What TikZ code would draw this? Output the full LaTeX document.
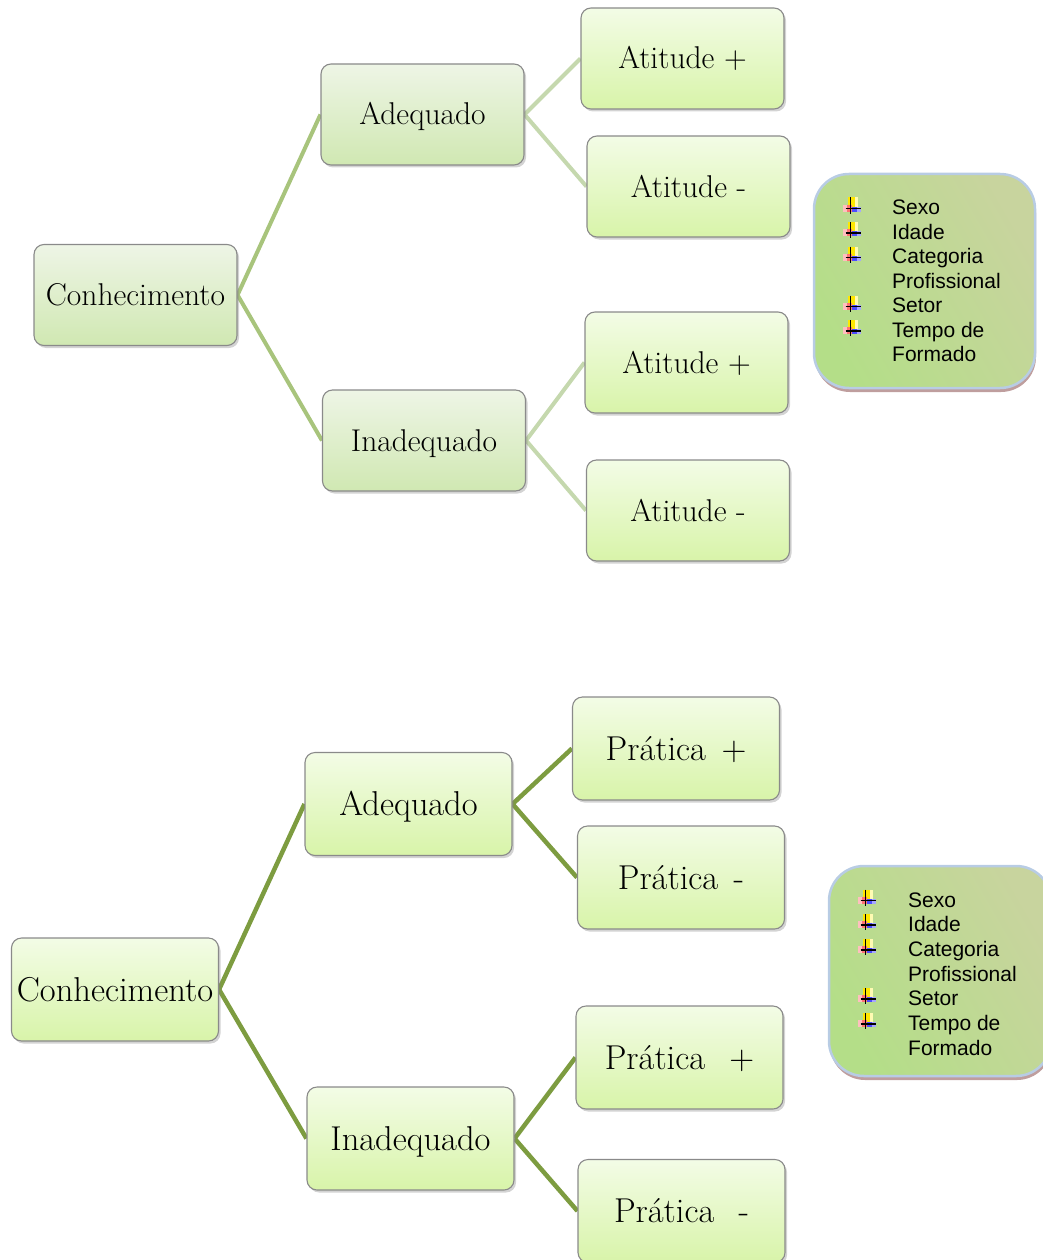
\documentclass[tikz,border=0pt]{standalone}
\usepackage{fontspec}
\newfontfamily\legfont{Liberation Sans}
\usetikzlibrary{shadows,backgrounds}
\definecolor{midtop}{HTML}{EEF5E6}
\definecolor{midbot}{HTML}{D0E8B2}
\definecolor{leaftop}{HTML}{F3FCE6}
\definecolor{leafbot}{HTML}{D8F4A9}
\definecolor{boxline}{HTML}{8A8A8A}
\definecolor{lineA}{HTML}{A8C47C}
\definecolor{lineB}{HTML}{C5D8AE}
\definecolor{lineC}{HTML}{7D9C40}
\definecolor{legA}{HTML}{B4DE88}
\definecolor{legB}{HTML}{C8D49E}
\definecolor{legline}{HTML}{B8CCE4}
\definecolor{legshadow}{HTML}{B89494}
\tikzset{
  box/.style={rounded corners=10pt, draw=boxline, line width=1.1pt, inner sep=0pt,
    drop shadow={shadow xshift=2pt, shadow yshift=-2.5pt, opacity=0.35}},
  midbox/.style={box, top color=midtop, bottom color=midbot},
  leafbox/.style={box, top color=leaftop, bottom color=leafbot},
  topfont/.style={font=\fontsize{31.5}{37}\selectfont, text height=21pt, text depth=0pt},
  botfont/.style={font=\fontsize{34.5}{40}\selectfont, text height=23pt, text depth=0pt},
  topsize/.style={minimum width=203pt, minimum height=101pt},
  botsize/.style={minimum width=207pt, minimum height=103pt},
  conA/.style={draw=lineA, line width=4pt},
  conB/.style={draw=lineB, line width=4pt},
  conC/.style={draw=lineC, line width=4.5pt},
  legend/.style={rounded corners=35pt, draw=legline, line width=2.5pt,
    left color=legA, right color=legB, shading angle=120,
    drop shadow={shadow xshift=1pt, shadow yshift=-4pt, fill=legshadow, opacity=0.9}},
  legtext/.style={font=\legfont\fontsize{21}{24}\selectfont, inner sep=0pt, anchor=base west},
  bul/.pic={
    \fill[yellow!90!orange] (-4,-8) rectangle (6,3);
    \fill[yellow!30] (3,-8) rectangle (6,3);
    \fill[red!55] (-9,-1) rectangle (0,6);
    \fill[red!25] (-9,-1) rectangle (-5,6);
    \fill[blue!70] (0,1) rectangle (9,6);
    \fill[blue!35] (5,1) rectangle (9,6);
    \draw[black, line width=1.4pt] (-1,-8) -- (-1,8);
    \draw[black, line width=1.4pt] (-6,3) -- (9,3);
  }
}
\begin{document}
\begin{tikzpicture}[x=1pt,y=-1pt]
\useasboundingbox (0,0) rectangle (1043,1260);

% ---------- top diagram ----------
\node[midbox, topsize, topfont] (k1) at (135.5,295) {Conhecimento};
\node[midbox, topsize, topfont] (a1) at (422.5,114.5) {Adequado};
\node[midbox, topsize, topfont] (i1) at (424,440.5) {Inadequado};
\node[leafbox, topsize, topfont] (ap1) at (682.5,58.5) {Atitude +};
\node[leafbox, topsize, topfont] (am1) at (688.5,186.5) {Atitude -};
\node[leafbox, topsize, topfont] (ap2) at (686.5,362.5) {Atitude +};
\node[leafbox, topsize, topfont] (am2) at (688,510.5) {Atitude -};

\begin{scope}[on background layer]
\draw[conA] (k1.east) -- (a1.west);
\draw[conA] (k1.east) -- (i1.west);
\draw[conB] (a1.east) -- (ap1.west);
\draw[conB] (a1.east) -- (am1.west);
\draw[conB] (i1.east) -- (ap2.west);
\draw[conB] (i1.east) -- (am2.west);
\end{scope}

\node[legend, minimum width=221pt, minimum height=214pt] (leg1) at (924.5,281) {};
\foreach \t [count=\n from 0] in {Sexo,Idade,Categoria,Profissional,Setor,Tempo de,Formado}{
  \node[legtext] (l1t\n) at (892,214.5+24.5*\n) {\t};
}
\foreach \n in {0,1,2,4,5}{
  \pic at (851.5,205.5+24.5*\n) {bul};
}

% ---------- bottom diagram ----------
\node[leafbox, botsize, botfont] (k2) at (115,989.5) {Conhecimento};
\node[leafbox, botsize, botfont] (a2) at (408.5,804) {Adequado};
\node[leafbox, botsize, botfont] (i2) at (410.5,1138.5) {Inadequado};
\node[leafbox, botsize, botfont] (pp1) at (676,748.5) {Prática\hspace{0.45em}+};
\node[leafbox, botsize, botfont] (pm1) at (681,877.5) {Prática\hspace{0.45em}-};
\node[leafbox, botsize, botfont] (pp2) at (679.5,1057.5) {Prática\hspace{0.7em}+};
\node[leafbox, botsize, botfont] (pm2) at (681.5,1211) {Prática\hspace{0.7em}-};

\begin{scope}[on background layer]
\draw[conC] (k2.east) -- (a2.west);
\draw[conC] (k2.east) -- (i2.west);
\draw[conC] (a2.east) -- (pp1.west);
\draw[conC] (a2.east) -- (pm1.west);
\draw[conC] (i2.east) -- (pp2.west);
\draw[conC] (i2.east) -- (pm2.west);
\end{scope}

\node[legend, minimum width=222pt, minimum height=210pt] (leg2) at (940,971) {};
\foreach \t [count=\n from 0] in {Sexo,Idade,Categoria,Profissional,Setor,Tempo de,Formado}{
  \node[legtext] (l2t\n) at (908,907+24.67*\n) {\t};
}
\foreach \n in {0,1,2,4,5}{
  \pic at (866.5,897.5+24.67*\n) {bul};
}
\end{tikzpicture}
\end{document}
